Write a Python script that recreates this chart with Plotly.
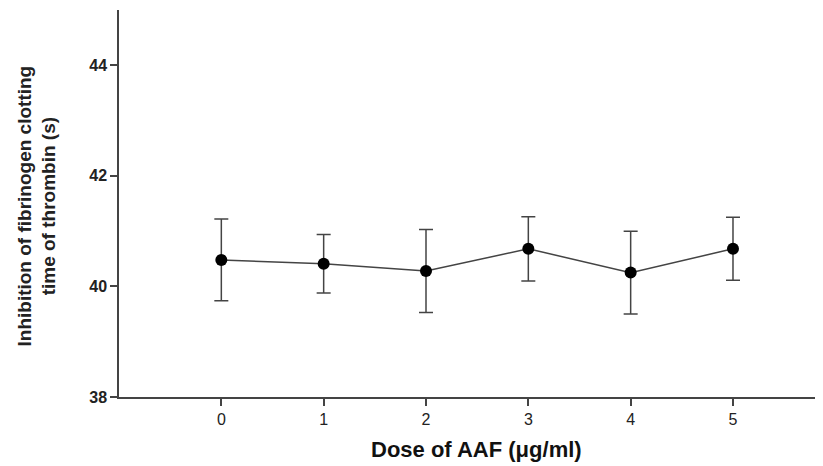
import plotly.graph_objects as go

doses = [0, 1, 2, 3, 4, 5]
means = [40.48, 40.41, 40.28, 40.68, 40.25, 40.68]
errors = [0.74, 0.53, 0.75, 0.58, 0.75, 0.57]
y_ticks = [38, 40, 42, 44]

fig = go.Figure()
fig.add_trace(go.Scatter(
    x=doses, y=means, mode="lines+markers",
    line=dict(color="#444444", width=1.5),
    marker=dict(color="black", size=12),
    error_y=dict(type="data", array=errors, visible=True,
                 color="#444444", thickness=1.5, width=7),
    showlegend=False,
))

fig.update_layout(
    width=823, height=466,
    margin=dict(l=111, r=10, t=2, b=77),
    plot_bgcolor="white", paper_bgcolor="white",
    font=dict(family="Liberation Sans, Arial, sans-serif", color="#222222"),
    xaxis=dict(range=[-1, 5.86], tickvals=doses, showgrid=False, zeroline=False,
               showline=True, linecolor="#444444", linewidth=1.5,
               ticks="outside", ticklen=7, tickcolor="#444444", tickwidth=1.5,
               tickfont=dict(size=16)),
    yaxis=dict(range=[38, 45], tickvals=y_ticks, showgrid=False, zeroline=False,
               showline=True, linecolor="#444444", linewidth=1.5,
               ticks="outside", ticklen=7, tickcolor="#444444", tickwidth=1.5,
               tickfont=dict(size=16, weight="bold")),
    annotations=[
        dict(text="<b>Inhibition of fibrinogen clotting<br>time of thrombin (s)</b>",
             xref="paper", yref="paper", x=0, y=0.5, xshift=-83, yshift=-3,
             xanchor="center", yanchor="middle", textangle=-90, showarrow=False,
             font=dict(size=19, color="#222222")),
        dict(text="<b>Dose of AAF (μg/ml)</b>",
             xref="paper", yref="paper", x=0.5, y=0, xshift=6, yshift=-52,
             xanchor="center", yanchor="middle", showarrow=False,
             font=dict(size=22, color="#111111")),
    ],
)

fig.write_html("out.html")
